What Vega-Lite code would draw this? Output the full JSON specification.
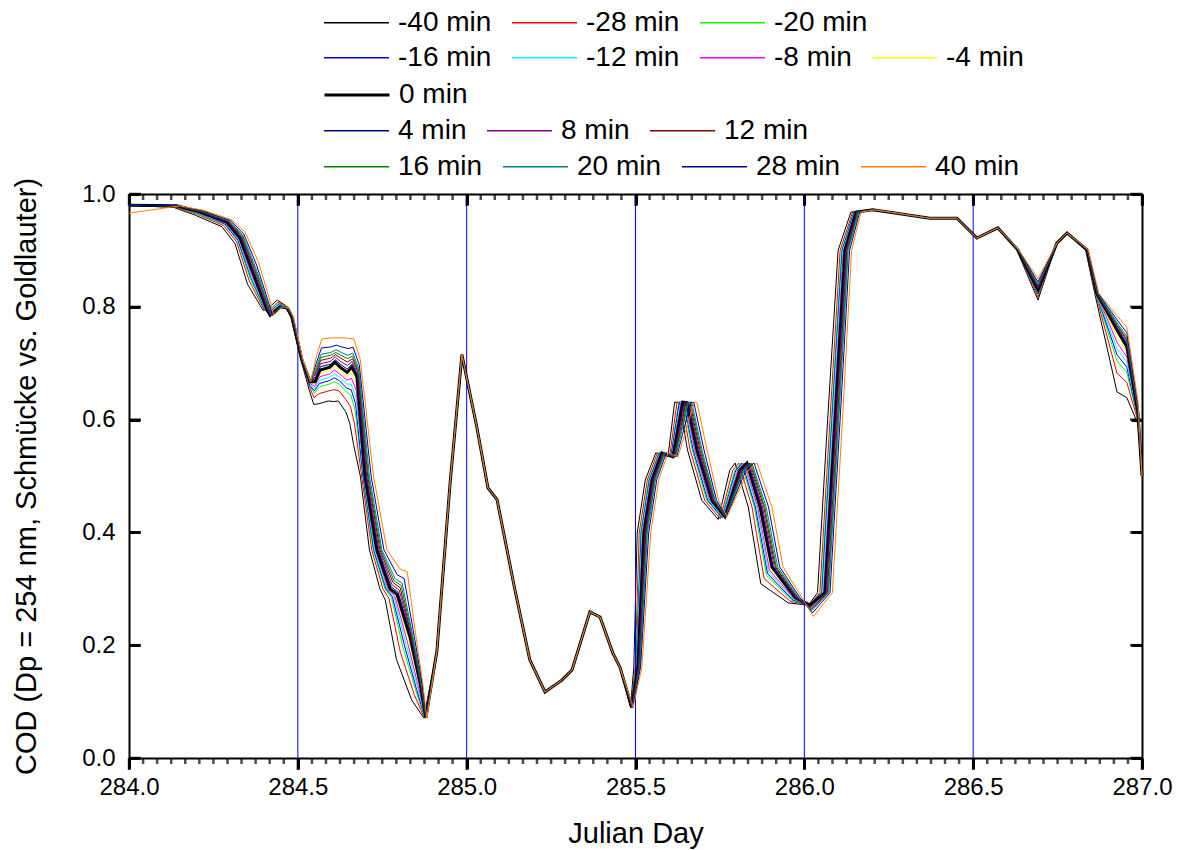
{
"$schema":"https://vega.github.io/schema/vega-lite/v6.json",
"width":1013,"height":564,
"autosize":{"type":"none"},
"padding":{"left":129,"top":194,"right":35,"bottom":92},
"background":"white",
"config":{"view":{"stroke":null},"font":"Liberation Sans",
"axis":{"grid":false,"domainColor":"black","domainWidth":2,"labelColor":"black","titleColor":"black","labelFont":"Liberation Sans","titleFont":"Liberation Sans","titleFontWeight":"normal","labelFontSize":24,"titleFontSize":29},
"legend":{"labelFont":"Liberation Sans","labelFontSize":28,"labelColor":"black","symbolType":"stroke","symbolSize":4225,"symbolStrokeWidth":1.5,"labelOffset":8,"columnPadding":17,"padding":0,"offset":0,"direction":"horizontal","orient":"none","title":null}},
"datasets":{
"minor":[{"p":284.0417},{"p":284.0833},{"p":284.125},{"p":284.1667},{"p":284.2083},{"p":284.25},{"p":284.2917},{"p":284.3333},{"p":284.375},{"p":284.4167},{"p":284.4583},{"p":284.5417},{"p":284.5833},{"p":284.625},{"p":284.6667},{"p":284.7083},{"p":284.75},{"p":284.7917},{"p":284.8333},{"p":284.875},{"p":284.9167},{"p":284.9583},{"p":285.0417},{"p":285.0833},{"p":285.125},{"p":285.1667},{"p":285.2083},{"p":285.25},{"p":285.2917},{"p":285.3333},{"p":285.375},{"p":285.4167},{"p":285.4583},{"p":285.5417},{"p":285.5833},{"p":285.625},{"p":285.6667},{"p":285.7083},{"p":285.75},{"p":285.7917},{"p":285.8333},{"p":285.875},{"p":285.9167},{"p":285.9583},{"p":286.0417},{"p":286.0833},{"p":286.125},{"p":286.1667},{"p":286.2083},{"p":286.25},{"p":286.2917},{"p":286.3333},{"p":286.375},{"p":286.4167},{"p":286.4583},{"p":286.5417},{"p":286.5833},{"p":286.625},{"p":286.6667},{"p":286.7083},{"p":286.75},{"p":286.7917},{"p":286.8333},{"p":286.875},{"p":286.9167},{"p":286.9583}],
"majorx":[{"p":284},{"p":284.5},{"p":285},{"p":285.5},{"p":286},{"p":286.5},{"p":287}],
"majory":[{"p":0},{"p":0.2},{"p":0.4},{"p":0.6},{"p":0.8},{"p":1}],
"days":[{"x":284.5},{"x":285},{"x":285.5},{"x":286},{"x":286.5}]
},
"data":{"values":[
{"lag":-40,"t":284,"v":0.98},{"lag":-40,"t":284.134,"v":0.976},{"lag":-40,"t":284.198,"v":0.962},{"lag":-40,"t":284.275,"v":0.942},{"lag":-40,"t":284.314,"v":0.912},{"lag":-40,"t":284.351,"v":0.84},{"lag":-40,"t":284.397,"v":0.794},{"lag":-40,"t":284.408,"v":0.795},{"lag":-40,"t":284.439,"v":0.812},{"lag":-40,"t":284.462,"v":0.803},{"lag":-40,"t":284.479,"v":0.782},{"lag":-40,"t":284.509,"v":0.706},{"lag":-40,"t":284.534,"v":0.652},{"lag":-40,"t":284.547,"v":0.627},{"lag":-40,"t":284.561,"v":0.628},{"lag":-40,"t":284.59,"v":0.633},{"lag":-40,"t":284.605,"v":0.632},{"lag":-40,"t":284.62,"v":0.633},{"lag":-40,"t":284.642,"v":0.614},{"lag":-40,"t":284.654,"v":0.593},{"lag":-40,"t":284.665,"v":0.556},{"lag":-40,"t":284.685,"v":0.5},{"lag":-40,"t":284.712,"v":0.369},{"lag":-40,"t":284.743,"v":0.3},{"lag":-40,"t":284.759,"v":0.28},{"lag":-40,"t":284.792,"v":0.175},{"lag":-40,"t":284.837,"v":0.103},{"lag":-40,"t":284.873,"v":0.071},
{"lag":-40,"t":284.912,"v":0.19},{"lag":-40,"t":284.951,"v":0.488},{"lag":-40,"t":284.986,"v":0.715},{"lag":-40,"t":285.03,"v":0.587},{"lag":-40,"t":285.063,"v":0.479},{"lag":-40,"t":285.09,"v":0.458},{"lag":-40,"t":285.143,"v":0.298},{"lag":-40,"t":285.187,"v":0.174},{"lag":-40,"t":285.232,"v":0.117},{"lag":-40,"t":285.282,"v":0.138},{"lag":-40,"t":285.312,"v":0.156},{"lag":-40,"t":285.365,"v":0.259},{"lag":-40,"t":285.395,"v":0.25},{"lag":-40,"t":285.433,"v":0.186},{"lag":-40,"t":285.454,"v":0.161},
{"lag":-40,"t":285.485,"v":0.09},{"lag":-40,"t":285.495,"v":0.161},{"lag":-40,"t":285.505,"v":0.399},{"lag":-40,"t":285.529,"v":0.493},{"lag":-40,"t":285.56,"v":0.541},{"lag":-40,"t":285.596,"v":0.534},{"lag":-40,"t":285.616,"v":0.631},{"lag":-40,"t":285.63,"v":0.63},{"lag":-40,"t":285.654,"v":0.546},{"lag":-40,"t":285.696,"v":0.457},{"lag":-40,"t":285.745,"v":0.423},{"lag":-40,"t":285.779,"v":0.51},{"lag":-40,"t":285.795,"v":0.523},{"lag":-40,"t":285.834,"v":0.445},{"lag":-40,"t":285.871,"v":0.309},{"lag":-40,"t":285.952,"v":0.275},{"lag":-40,"t":286.012,"v":0.271},{"lag":-40,"t":286.039,"v":0.293},{"lag":-40,"t":286.069,"v":0.6},{"lag":-40,"t":286.1,"v":0.9},{"lag":-40,"t":286.138,"v":0.968},{"lag":-40,"t":286.198,"v":0.972},
{"lag":-40,"t":286.372,"v":0.957},{"lag":-40,"t":286.452,"v":0.957},{"lag":-40,"t":286.511,"v":0.922},{"lag":-40,"t":286.573,"v":0.94},{"lag":-40,"t":286.629,"v":0.901},{"lag":-40,"t":286.692,"v":0.812},{"lag":-40,"t":286.748,"v":0.913},{"lag":-40,"t":286.778,"v":0.931},{"lag":-40,"t":286.833,"v":0.901},{"lag":-40,"t":286.86,"v":0.824},{"lag":-40,"t":286.926,"v":0.649},{"lag":-40,"t":286.955,"v":0.639},{"lag":-40,"t":286.988,"v":0.592},{"lag":-40,"t":287,"v":0.5},

{"lag":-28,"t":284,"v":0.98},{"lag":-28,"t":284.136,"v":0.977},{"lag":-28,"t":284.202,"v":0.964},{"lag":-28,"t":284.28,"v":0.944},{"lag":-28,"t":284.319,"v":0.915},{"lag":-28,"t":284.356,"v":0.846},{"lag":-28,"t":284.401,"v":0.794},{"lag":-28,"t":284.411,"v":0.792},{"lag":-28,"t":284.441,"v":0.808},{"lag":-28,"t":284.464,"v":0.802},{"lag":-28,"t":284.48,"v":0.782},{"lag":-28,"t":284.51,"v":0.706},{"lag":-28,"t":284.535,"v":0.657},{"lag":-28,"t":284.548,"v":0.639},{"lag":-28,"t":284.563,"v":0.646},{"lag":-28,"t":284.592,"v":0.651},{"lag":-28,"t":284.607,"v":0.653},{"lag":-28,"t":284.622,"v":0.651},{"lag":-28,"t":284.643,"v":0.635},{"lag":-28,"t":284.656,"v":0.623},{"lag":-28,"t":284.668,"v":0.592},{"lag":-28,"t":284.689,"v":0.5},{"lag":-28,"t":284.719,"v":0.369},{"lag":-28,"t":284.752,"v":0.3},{"lag":-28,"t":284.77,"v":0.283},{"lag":-28,"t":284.804,"v":0.187},{"lag":-28,"t":284.845,"v":0.112},{"lag":-28,"t":284.875,"v":0.071},
{"lag":-28,"t":284.912,"v":0.19},{"lag":-28,"t":284.951,"v":0.488},{"lag":-28,"t":284.986,"v":0.715},{"lag":-28,"t":285.03,"v":0.587},{"lag":-28,"t":285.063,"v":0.479},{"lag":-28,"t":285.09,"v":0.458},{"lag":-28,"t":285.143,"v":0.298},{"lag":-28,"t":285.187,"v":0.174},{"lag":-28,"t":285.232,"v":0.117},{"lag":-28,"t":285.282,"v":0.138},{"lag":-28,"t":285.312,"v":0.156},{"lag":-28,"t":285.365,"v":0.259},{"lag":-28,"t":285.395,"v":0.25},{"lag":-28,"t":285.433,"v":0.186},{"lag":-28,"t":285.454,"v":0.161},
{"lag":-28,"t":285.486,"v":0.09},{"lag":-28,"t":285.499,"v":0.161},{"lag":-28,"t":285.511,"v":0.399},{"lag":-28,"t":285.535,"v":0.493},{"lag":-28,"t":285.565,"v":0.541},{"lag":-28,"t":285.601,"v":0.534},{"lag":-28,"t":285.623,"v":0.631},{"lag":-28,"t":285.637,"v":0.63},{"lag":-28,"t":285.662,"v":0.546},{"lag":-28,"t":285.705,"v":0.457},{"lag":-28,"t":285.751,"v":0.424},{"lag":-28,"t":285.788,"v":0.51},{"lag":-28,"t":285.806,"v":0.523},{"lag":-28,"t":285.845,"v":0.445},{"lag":-28,"t":285.881,"v":0.318},{"lag":-28,"t":285.958,"v":0.278},{"lag":-28,"t":286.014,"v":0.271},{"lag":-28,"t":286.046,"v":0.293},{"lag":-28,"t":286.076,"v":0.6},{"lag":-28,"t":286.106,"v":0.9},{"lag":-28,"t":286.143,"v":0.968},{"lag":-28,"t":286.2,"v":0.972},
{"lag":-28,"t":286.372,"v":0.957},{"lag":-28,"t":286.452,"v":0.957},{"lag":-28,"t":286.511,"v":0.922},{"lag":-28,"t":286.573,"v":0.94},{"lag":-28,"t":286.63,"v":0.901},{"lag":-28,"t":286.692,"v":0.817},{"lag":-28,"t":286.748,"v":0.913},{"lag":-28,"t":286.778,"v":0.931},{"lag":-28,"t":286.834,"v":0.901},{"lag":-28,"t":286.862,"v":0.824},{"lag":-28,"t":286.926,"v":0.682},{"lag":-28,"t":286.955,"v":0.666},{"lag":-28,"t":286.988,"v":0.598},{"lag":-28,"t":287,"v":0.5},

{"lag":-20,"t":284,"v":0.98},{"lag":-20,"t":284.138,"v":0.978},{"lag":-20,"t":284.204,"v":0.965},{"lag":-20,"t":284.283,"v":0.946},{"lag":-20,"t":284.322,"v":0.917},{"lag":-20,"t":284.359,"v":0.85},{"lag":-20,"t":284.403,"v":0.794},{"lag":-20,"t":284.413,"v":0.79},{"lag":-20,"t":284.443,"v":0.806},{"lag":-20,"t":284.465,"v":0.801},{"lag":-20,"t":284.481,"v":0.782},{"lag":-20,"t":284.511,"v":0.706},{"lag":-20,"t":284.535,"v":0.66},{"lag":-20,"t":284.549,"v":0.647},{"lag":-20,"t":284.564,"v":0.658},{"lag":-20,"t":284.593,"v":0.663},{"lag":-20,"t":284.608,"v":0.667},{"lag":-20,"t":284.623,"v":0.663},{"lag":-20,"t":284.644,"v":0.649},{"lag":-20,"t":284.657,"v":0.643},{"lag":-20,"t":284.67,"v":0.616},{"lag":-20,"t":284.692,"v":0.5},{"lag":-20,"t":284.723,"v":0.369},{"lag":-20,"t":284.758,"v":0.3},{"lag":-20,"t":284.777,"v":0.285},{"lag":-20,"t":284.812,"v":0.195},{"lag":-20,"t":284.85,"v":0.118},{"lag":-20,"t":284.876,"v":0.071},
{"lag":-20,"t":284.912,"v":0.19},{"lag":-20,"t":284.951,"v":0.488},{"lag":-20,"t":284.986,"v":0.715},{"lag":-20,"t":285.03,"v":0.587},{"lag":-20,"t":285.063,"v":0.479},{"lag":-20,"t":285.09,"v":0.458},{"lag":-20,"t":285.143,"v":0.298},{"lag":-20,"t":285.187,"v":0.174},{"lag":-20,"t":285.232,"v":0.117},{"lag":-20,"t":285.282,"v":0.138},{"lag":-20,"t":285.312,"v":0.156},{"lag":-20,"t":285.365,"v":0.259},{"lag":-20,"t":285.395,"v":0.25},{"lag":-20,"t":285.433,"v":0.186},{"lag":-20,"t":285.454,"v":0.161},
{"lag":-20,"t":285.487,"v":0.09},{"lag":-20,"t":285.501,"v":0.161},{"lag":-20,"t":285.515,"v":0.399},{"lag":-20,"t":285.539,"v":0.493},{"lag":-20,"t":285.569,"v":0.541},{"lag":-20,"t":285.604,"v":0.534},{"lag":-20,"t":285.628,"v":0.631},{"lag":-20,"t":285.641,"v":0.63},{"lag":-20,"t":285.668,"v":0.546},{"lag":-20,"t":285.711,"v":0.457},{"lag":-20,"t":285.755,"v":0.426},{"lag":-20,"t":285.794,"v":0.51},{"lag":-20,"t":285.813,"v":0.523},{"lag":-20,"t":285.852,"v":0.445},{"lag":-20,"t":285.888,"v":0.324},{"lag":-20,"t":285.962,"v":0.28},{"lag":-20,"t":286.015,"v":0.271},{"lag":-20,"t":286.05,"v":0.293},{"lag":-20,"t":286.08,"v":0.6},{"lag":-20,"t":286.11,"v":0.9},{"lag":-20,"t":286.146,"v":0.968},{"lag":-20,"t":286.201,"v":0.972},
{"lag":-20,"t":286.372,"v":0.957},{"lag":-20,"t":286.452,"v":0.957},{"lag":-20,"t":286.511,"v":0.922},{"lag":-20,"t":286.573,"v":0.94},{"lag":-20,"t":286.631,"v":0.901},{"lag":-20,"t":286.692,"v":0.821},{"lag":-20,"t":286.748,"v":0.913},{"lag":-20,"t":286.778,"v":0.931},{"lag":-20,"t":286.835,"v":0.901},{"lag":-20,"t":286.863,"v":0.824},{"lag":-20,"t":286.926,"v":0.704},{"lag":-20,"t":286.955,"v":0.684},{"lag":-20,"t":286.988,"v":0.602},{"lag":-20,"t":287,"v":0.5},

{"lag":-16,"t":284,"v":0.98},{"lag":-16,"t":284.139,"v":0.978},{"lag":-16,"t":284.205,"v":0.966},{"lag":-16,"t":284.284,"v":0.947},{"lag":-16,"t":284.323,"v":0.918},{"lag":-16,"t":284.361,"v":0.852},{"lag":-16,"t":284.404,"v":0.794},{"lag":-16,"t":284.414,"v":0.789},{"lag":-16,"t":284.444,"v":0.805},{"lag":-16,"t":284.466,"v":0.8},{"lag":-16,"t":284.481,"v":0.782},{"lag":-16,"t":284.511,"v":0.706},{"lag":-16,"t":284.535,"v":0.661},{"lag":-16,"t":284.549,"v":0.651},{"lag":-16,"t":284.564,"v":0.664},{"lag":-16,"t":284.593,"v":0.669},{"lag":-16,"t":284.608,"v":0.674},{"lag":-16,"t":284.623,"v":0.669},{"lag":-16,"t":284.644,"v":0.656},{"lag":-16,"t":284.658,"v":0.653},{"lag":-16,"t":284.671,"v":0.628},{"lag":-16,"t":284.693,"v":0.5},{"lag":-16,"t":284.725,"v":0.369},{"lag":-16,"t":284.761,"v":0.3},{"lag":-16,"t":284.78,"v":0.286},{"lag":-16,"t":284.816,"v":0.199},{"lag":-16,"t":284.852,"v":0.121},{"lag":-16,"t":284.877,"v":0.071},
{"lag":-16,"t":284.912,"v":0.19},{"lag":-16,"t":284.951,"v":0.488},{"lag":-16,"t":284.986,"v":0.715},{"lag":-16,"t":285.03,"v":0.587},{"lag":-16,"t":285.063,"v":0.479},{"lag":-16,"t":285.09,"v":0.458},{"lag":-16,"t":285.143,"v":0.298},{"lag":-16,"t":285.187,"v":0.174},{"lag":-16,"t":285.232,"v":0.117},{"lag":-16,"t":285.282,"v":0.138},{"lag":-16,"t":285.312,"v":0.156},{"lag":-16,"t":285.365,"v":0.259},{"lag":-16,"t":285.395,"v":0.25},{"lag":-16,"t":285.433,"v":0.186},{"lag":-16,"t":285.454,"v":0.161},
{"lag":-16,"t":285.487,"v":0.09},{"lag":-16,"t":285.502,"v":0.161},{"lag":-16,"t":285.517,"v":0.399},{"lag":-16,"t":285.541,"v":0.493},{"lag":-16,"t":285.571,"v":0.541},{"lag":-16,"t":285.605,"v":0.534},{"lag":-16,"t":285.63,"v":0.631},{"lag":-16,"t":285.643,"v":0.63},{"lag":-16,"t":285.671,"v":0.546},{"lag":-16,"t":285.714,"v":0.457},{"lag":-16,"t":285.757,"v":0.426},{"lag":-16,"t":285.797,"v":0.51},{"lag":-16,"t":285.816,"v":0.523},{"lag":-16,"t":285.855,"v":0.445},{"lag":-16,"t":285.891,"v":0.327},{"lag":-16,"t":285.964,"v":0.281},{"lag":-16,"t":286.015,"v":0.271},{"lag":-16,"t":286.052,"v":0.293},{"lag":-16,"t":286.082,"v":0.6},{"lag":-16,"t":286.112,"v":0.9},{"lag":-16,"t":286.147,"v":0.968},{"lag":-16,"t":286.201,"v":0.972},
{"lag":-16,"t":286.372,"v":0.957},{"lag":-16,"t":286.452,"v":0.957},{"lag":-16,"t":286.511,"v":0.922},{"lag":-16,"t":286.573,"v":0.94},{"lag":-16,"t":286.631,"v":0.901},{"lag":-16,"t":286.692,"v":0.823},{"lag":-16,"t":286.748,"v":0.913},{"lag":-16,"t":286.778,"v":0.931},{"lag":-16,"t":286.835,"v":0.901},{"lag":-16,"t":286.864,"v":0.824},{"lag":-16,"t":286.926,"v":0.715},{"lag":-16,"t":286.955,"v":0.693},{"lag":-16,"t":286.988,"v":0.604},{"lag":-16,"t":287,"v":0.5},

{"lag":-12,"t":284,"v":0.98},{"lag":-12,"t":284.14,"v":0.978},{"lag":-12,"t":284.206,"v":0.966},{"lag":-12,"t":284.286,"v":0.948},{"lag":-12,"t":284.325,"v":0.919},{"lag":-12,"t":284.362,"v":0.854},{"lag":-12,"t":284.405,"v":0.794},{"lag":-12,"t":284.415,"v":0.788},{"lag":-12,"t":284.445,"v":0.804},{"lag":-12,"t":284.466,"v":0.8},{"lag":-12,"t":284.482,"v":0.782},{"lag":-12,"t":284.511,"v":0.706},{"lag":-12,"t":284.535,"v":0.663},{"lag":-12,"t":284.55,"v":0.655},{"lag":-12,"t":284.565,"v":0.67},{"lag":-12,"t":284.594,"v":0.675},{"lag":-12,"t":284.609,"v":0.681},{"lag":-12,"t":284.624,"v":0.675},{"lag":-12,"t":284.645,"v":0.663},{"lag":-12,"t":284.658,"v":0.663},{"lag":-12,"t":284.672,"v":0.64},{"lag":-12,"t":284.695,"v":0.5},{"lag":-12,"t":284.727,"v":0.369},{"lag":-12,"t":284.764,"v":0.3},{"lag":-12,"t":284.784,"v":0.287},{"lag":-12,"t":284.82,"v":0.203},{"lag":-12,"t":284.855,"v":0.124},{"lag":-12,"t":284.877,"v":0.071},
{"lag":-12,"t":284.912,"v":0.19},{"lag":-12,"t":284.951,"v":0.488},{"lag":-12,"t":284.986,"v":0.715},{"lag":-12,"t":285.03,"v":0.587},{"lag":-12,"t":285.063,"v":0.479},{"lag":-12,"t":285.09,"v":0.458},{"lag":-12,"t":285.143,"v":0.298},{"lag":-12,"t":285.187,"v":0.174},{"lag":-12,"t":285.232,"v":0.117},{"lag":-12,"t":285.282,"v":0.138},{"lag":-12,"t":285.312,"v":0.156},{"lag":-12,"t":285.365,"v":0.259},{"lag":-12,"t":285.395,"v":0.25},{"lag":-12,"t":285.433,"v":0.186},{"lag":-12,"t":285.454,"v":0.161},
{"lag":-12,"t":285.488,"v":0.09},{"lag":-12,"t":285.503,"v":0.161},{"lag":-12,"t":285.519,"v":0.399},{"lag":-12,"t":285.543,"v":0.493},{"lag":-12,"t":285.573,"v":0.541},{"lag":-12,"t":285.607,"v":0.534},{"lag":-12,"t":285.633,"v":0.631},{"lag":-12,"t":285.645,"v":0.63},{"lag":-12,"t":285.674,"v":0.546},{"lag":-12,"t":285.717,"v":0.457},{"lag":-12,"t":285.759,"v":0.427},{"lag":-12,"t":285.8,"v":0.51},{"lag":-12,"t":285.82,"v":0.523},{"lag":-12,"t":285.859,"v":0.445},{"lag":-12,"t":285.894,"v":0.33},{"lag":-12,"t":285.966,"v":0.282},{"lag":-12,"t":286.016,"v":0.271},{"lag":-12,"t":286.054,"v":0.293},{"lag":-12,"t":286.084,"v":0.6},{"lag":-12,"t":286.114,"v":0.9},{"lag":-12,"t":286.149,"v":0.968},{"lag":-12,"t":286.202,"v":0.972},
{"lag":-12,"t":286.372,"v":0.957},{"lag":-12,"t":286.452,"v":0.957},{"lag":-12,"t":286.511,"v":0.922},{"lag":-12,"t":286.573,"v":0.94},{"lag":-12,"t":286.631,"v":0.901},{"lag":-12,"t":286.692,"v":0.825},{"lag":-12,"t":286.748,"v":0.913},{"lag":-12,"t":286.778,"v":0.931},{"lag":-12,"t":286.836,"v":0.901},{"lag":-12,"t":286.864,"v":0.824},{"lag":-12,"t":286.926,"v":0.726},{"lag":-12,"t":286.955,"v":0.702},{"lag":-12,"t":286.988,"v":0.606},{"lag":-12,"t":287,"v":0.5},

{"lag":-8,"t":284,"v":0.98},{"lag":-8,"t":284.14,"v":0.978},{"lag":-8,"t":284.208,"v":0.967},{"lag":-8,"t":284.287,"v":0.948},{"lag":-8,"t":284.326,"v":0.92},{"lag":-8,"t":284.364,"v":0.856},{"lag":-8,"t":284.407,"v":0.794},{"lag":-8,"t":284.416,"v":0.787},{"lag":-8,"t":284.445,"v":0.802},{"lag":-8,"t":284.467,"v":0.799},{"lag":-8,"t":284.482,"v":0.782},{"lag":-8,"t":284.511,"v":0.706},{"lag":-8,"t":284.536,"v":0.664},{"lag":-8,"t":284.55,"v":0.659},{"lag":-8,"t":284.565,"v":0.676},{"lag":-8,"t":284.594,"v":0.681},{"lag":-8,"t":284.609,"v":0.688},{"lag":-8,"t":284.624,"v":0.681},{"lag":-8,"t":284.645,"v":0.67},{"lag":-8,"t":284.659,"v":0.673},{"lag":-8,"t":284.673,"v":0.652},{"lag":-8,"t":284.696,"v":0.5},{"lag":-8,"t":284.73,"v":0.369},{"lag":-8,"t":284.767,"v":0.3},{"lag":-8,"t":284.787,"v":0.288},{"lag":-8,"t":284.824,"v":0.207},{"lag":-8,"t":284.857,"v":0.127},{"lag":-8,"t":284.878,"v":0.071},
{"lag":-8,"t":284.912,"v":0.19},{"lag":-8,"t":284.951,"v":0.488},{"lag":-8,"t":284.986,"v":0.715},{"lag":-8,"t":285.03,"v":0.587},{"lag":-8,"t":285.063,"v":0.479},{"lag":-8,"t":285.09,"v":0.458},{"lag":-8,"t":285.143,"v":0.298},{"lag":-8,"t":285.187,"v":0.174},{"lag":-8,"t":285.232,"v":0.117},{"lag":-8,"t":285.282,"v":0.138},{"lag":-8,"t":285.312,"v":0.156},{"lag":-8,"t":285.365,"v":0.259},{"lag":-8,"t":285.395,"v":0.25},{"lag":-8,"t":285.433,"v":0.186},{"lag":-8,"t":285.454,"v":0.161},
{"lag":-8,"t":285.488,"v":0.09},{"lag":-8,"t":285.505,"v":0.161},{"lag":-8,"t":285.521,"v":0.399},{"lag":-8,"t":285.545,"v":0.493},{"lag":-8,"t":285.574,"v":0.541},{"lag":-8,"t":285.608,"v":0.534},{"lag":-8,"t":285.635,"v":0.631},{"lag":-8,"t":285.648,"v":0.63},{"lag":-8,"t":285.676,"v":0.546},{"lag":-8,"t":285.72,"v":0.457},{"lag":-8,"t":285.761,"v":0.427},{"lag":-8,"t":285.803,"v":0.51},{"lag":-8,"t":285.823,"v":0.523},{"lag":-8,"t":285.862,"v":0.445},{"lag":-8,"t":285.897,"v":0.333},{"lag":-8,"t":285.968,"v":0.283},{"lag":-8,"t":286.016,"v":0.271},{"lag":-8,"t":286.057,"v":0.293},{"lag":-8,"t":286.087,"v":0.6},{"lag":-8,"t":286.116,"v":0.9},{"lag":-8,"t":286.15,"v":0.968},{"lag":-8,"t":286.202,"v":0.972},
{"lag":-8,"t":286.372,"v":0.957},{"lag":-8,"t":286.452,"v":0.957},{"lag":-8,"t":286.511,"v":0.922},{"lag":-8,"t":286.573,"v":0.94},{"lag":-8,"t":286.631,"v":0.901},{"lag":-8,"t":286.692,"v":0.826},{"lag":-8,"t":286.748,"v":0.913},{"lag":-8,"t":286.778,"v":0.931},{"lag":-8,"t":286.836,"v":0.901},{"lag":-8,"t":286.865,"v":0.824},{"lag":-8,"t":286.926,"v":0.737},{"lag":-8,"t":286.955,"v":0.711},{"lag":-8,"t":286.988,"v":0.608},{"lag":-8,"t":287,"v":0.5},

{"lag":-4,"t":284,"v":0.98},{"lag":-4,"t":284.141,"v":0.979},{"lag":-4,"t":284.209,"v":0.967},{"lag":-4,"t":284.289,"v":0.949},{"lag":-4,"t":284.328,"v":0.921},{"lag":-4,"t":284.365,"v":0.858},{"lag":-4,"t":284.408,"v":0.794},{"lag":-4,"t":284.417,"v":0.786},{"lag":-4,"t":284.446,"v":0.801},{"lag":-4,"t":284.467,"v":0.799},{"lag":-4,"t":284.483,"v":0.782},{"lag":-4,"t":284.512,"v":0.706},{"lag":-4,"t":284.536,"v":0.666},{"lag":-4,"t":284.551,"v":0.663},{"lag":-4,"t":284.566,"v":0.682},{"lag":-4,"t":284.595,"v":0.687},{"lag":-4,"t":284.61,"v":0.695},{"lag":-4,"t":284.625,"v":0.687},{"lag":-4,"t":284.646,"v":0.677},{"lag":-4,"t":284.659,"v":0.683},{"lag":-4,"t":284.674,"v":0.664},{"lag":-4,"t":284.698,"v":0.5},{"lag":-4,"t":284.732,"v":0.369},{"lag":-4,"t":284.77,"v":0.3},{"lag":-4,"t":284.791,"v":0.289},{"lag":-4,"t":284.828,"v":0.211},{"lag":-4,"t":284.86,"v":0.13},{"lag":-4,"t":284.878,"v":0.071},
{"lag":-4,"t":284.912,"v":0.19},{"lag":-4,"t":284.951,"v":0.488},{"lag":-4,"t":284.986,"v":0.715},{"lag":-4,"t":285.03,"v":0.587},{"lag":-4,"t":285.063,"v":0.479},{"lag":-4,"t":285.09,"v":0.458},{"lag":-4,"t":285.143,"v":0.298},{"lag":-4,"t":285.187,"v":0.174},{"lag":-4,"t":285.232,"v":0.117},{"lag":-4,"t":285.282,"v":0.138},{"lag":-4,"t":285.312,"v":0.156},{"lag":-4,"t":285.365,"v":0.259},{"lag":-4,"t":285.395,"v":0.25},{"lag":-4,"t":285.433,"v":0.186},{"lag":-4,"t":285.454,"v":0.161},
{"lag":-4,"t":285.489,"v":0.09},{"lag":-4,"t":285.506,"v":0.161},{"lag":-4,"t":285.523,"v":0.399},{"lag":-4,"t":285.547,"v":0.493},{"lag":-4,"t":285.576,"v":0.541},{"lag":-4,"t":285.61,"v":0.534},{"lag":-4,"t":285.638,"v":0.631},{"lag":-4,"t":285.65,"v":0.63},{"lag":-4,"t":285.679,"v":0.546},{"lag":-4,"t":285.723,"v":0.457},{"lag":-4,"t":285.763,"v":0.428},{"lag":-4,"t":285.806,"v":0.51},{"lag":-4,"t":285.827,"v":0.523},{"lag":-4,"t":285.866,"v":0.445},{"lag":-4,"t":285.901,"v":0.336},{"lag":-4,"t":285.97,"v":0.284},{"lag":-4,"t":286.017,"v":0.271},{"lag":-4,"t":286.059,"v":0.293},{"lag":-4,"t":286.089,"v":0.6},{"lag":-4,"t":286.118,"v":0.9},{"lag":-4,"t":286.152,"v":0.968},{"lag":-4,"t":286.203,"v":0.972},
{"lag":-4,"t":286.372,"v":0.957},{"lag":-4,"t":286.452,"v":0.957},{"lag":-4,"t":286.511,"v":0.922},{"lag":-4,"t":286.573,"v":0.94},{"lag":-4,"t":286.632,"v":0.901},{"lag":-4,"t":286.692,"v":0.828},{"lag":-4,"t":286.748,"v":0.913},{"lag":-4,"t":286.778,"v":0.931},{"lag":-4,"t":286.837,"v":0.901},{"lag":-4,"t":286.865,"v":0.824},{"lag":-4,"t":286.926,"v":0.748},{"lag":-4,"t":286.955,"v":0.72},{"lag":-4,"t":286.988,"v":0.61},{"lag":-4,"t":287,"v":0.5},

{"lag":0,"t":284,"v":0.98},{"lag":0,"t":284.142,"v":0.979},{"lag":0,"t":284.21,"v":0.968},{"lag":0,"t":284.29,"v":0.95},{"lag":0,"t":284.329,"v":0.922},{"lag":0,"t":284.367,"v":0.86},{"lag":0,"t":284.409,"v":0.794},{"lag":0,"t":284.418,"v":0.785},{"lag":0,"t":284.447,"v":0.8},{"lag":0,"t":284.468,"v":0.798},{"lag":0,"t":284.483,"v":0.782},{"lag":0,"t":284.512,"v":0.706},{"lag":0,"t":284.536,"v":0.667},{"lag":0,"t":284.551,"v":0.667},{"lag":0,"t":284.566,"v":0.688},{"lag":0,"t":284.595,"v":0.693},{"lag":0,"t":284.61,"v":0.702},{"lag":0,"t":284.625,"v":0.693},{"lag":0,"t":284.646,"v":0.684},{"lag":0,"t":284.66,"v":0.693},{"lag":0,"t":284.675,"v":0.676},{"lag":0,"t":284.699,"v":0.5},{"lag":0,"t":284.734,"v":0.369},{"lag":0,"t":284.773,"v":0.3},{"lag":0,"t":284.794,"v":0.29},{"lag":0,"t":284.832,"v":0.215},{"lag":0,"t":284.862,"v":0.133},{"lag":0,"t":284.879,"v":0.071},
{"lag":0,"t":284.912,"v":0.19},{"lag":0,"t":284.951,"v":0.488},{"lag":0,"t":284.986,"v":0.715},{"lag":0,"t":285.03,"v":0.587},{"lag":0,"t":285.063,"v":0.479},{"lag":0,"t":285.09,"v":0.458},{"lag":0,"t":285.143,"v":0.298},{"lag":0,"t":285.187,"v":0.174},{"lag":0,"t":285.232,"v":0.117},{"lag":0,"t":285.282,"v":0.138},{"lag":0,"t":285.312,"v":0.156},{"lag":0,"t":285.365,"v":0.259},{"lag":0,"t":285.395,"v":0.25},{"lag":0,"t":285.433,"v":0.186},{"lag":0,"t":285.454,"v":0.161},
{"lag":0,"t":285.489,"v":0.09},{"lag":0,"t":285.507,"v":0.161},{"lag":0,"t":285.525,"v":0.399},{"lag":0,"t":285.549,"v":0.493},{"lag":0,"t":285.578,"v":0.541},{"lag":0,"t":285.611,"v":0.534},{"lag":0,"t":285.64,"v":0.631},{"lag":0,"t":285.652,"v":0.63},{"lag":0,"t":285.682,"v":0.546},{"lag":0,"t":285.726,"v":0.457},{"lag":0,"t":285.765,"v":0.428},{"lag":0,"t":285.809,"v":0.51},{"lag":0,"t":285.83,"v":0.523},{"lag":0,"t":285.869,"v":0.445},{"lag":0,"t":285.904,"v":0.339},{"lag":0,"t":285.972,"v":0.285},{"lag":0,"t":286.017,"v":0.271},{"lag":0,"t":286.061,"v":0.293},{"lag":0,"t":286.091,"v":0.6},{"lag":0,"t":286.12,"v":0.9},{"lag":0,"t":286.153,"v":0.968},{"lag":0,"t":286.203,"v":0.972},
{"lag":0,"t":286.372,"v":0.957},{"lag":0,"t":286.452,"v":0.957},{"lag":0,"t":286.511,"v":0.922},{"lag":0,"t":286.573,"v":0.94},{"lag":0,"t":286.632,"v":0.901},{"lag":0,"t":286.692,"v":0.83},{"lag":0,"t":286.748,"v":0.913},{"lag":0,"t":286.778,"v":0.931},{"lag":0,"t":286.837,"v":0.901},{"lag":0,"t":286.866,"v":0.824},{"lag":0,"t":286.926,"v":0.759},{"lag":0,"t":286.955,"v":0.729},{"lag":0,"t":286.988,"v":0.612},{"lag":0,"t":287,"v":0.5},

{"lag":4,"t":284,"v":0.98},{"lag":4,"t":284.143,"v":0.979},{"lag":4,"t":284.211,"v":0.968},{"lag":4,"t":284.292,"v":0.95},{"lag":4,"t":284.331,"v":0.923},{"lag":4,"t":284.369,"v":0.862},{"lag":4,"t":284.41,"v":0.795},{"lag":4,"t":284.419,"v":0.785},{"lag":4,"t":284.448,"v":0.8},{"lag":4,"t":284.469,"v":0.798},{"lag":4,"t":284.483,"v":0.782},{"lag":4,"t":284.512,"v":0.706},{"lag":4,"t":284.536,"v":0.667},{"lag":4,"t":284.551,"v":0.672},{"lag":4,"t":284.567,"v":0.694},{"lag":4,"t":284.596,"v":0.698},{"lag":4,"t":284.611,"v":0.706},{"lag":4,"t":284.626,"v":0.698},{"lag":4,"t":284.646,"v":0.69},{"lag":4,"t":284.661,"v":0.698},{"lag":4,"t":284.676,"v":0.679},{"lag":4,"t":284.702,"v":0.5},{"lag":4,"t":284.737,"v":0.369},{"lag":4,"t":284.776,"v":0.304},{"lag":4,"t":284.797,"v":0.294},{"lag":4,"t":284.834,"v":0.215},{"lag":4,"t":284.863,"v":0.133},{"lag":4,"t":284.879,"v":0.071},
{"lag":4,"t":284.912,"v":0.19},{"lag":4,"t":284.951,"v":0.488},{"lag":4,"t":284.986,"v":0.715},{"lag":4,"t":285.03,"v":0.587},{"lag":4,"t":285.063,"v":0.479},{"lag":4,"t":285.09,"v":0.458},{"lag":4,"t":285.143,"v":0.298},{"lag":4,"t":285.187,"v":0.174},{"lag":4,"t":285.232,"v":0.117},{"lag":4,"t":285.282,"v":0.138},{"lag":4,"t":285.312,"v":0.156},{"lag":4,"t":285.365,"v":0.259},{"lag":4,"t":285.395,"v":0.25},{"lag":4,"t":285.433,"v":0.186},{"lag":4,"t":285.454,"v":0.161},
{"lag":4,"t":285.489,"v":0.09},{"lag":4,"t":285.508,"v":0.161},{"lag":4,"t":285.527,"v":0.399},{"lag":4,"t":285.551,"v":0.493},{"lag":4,"t":285.58,"v":0.541},{"lag":4,"t":285.613,"v":0.534},{"lag":4,"t":285.643,"v":0.631},{"lag":4,"t":285.655,"v":0.63},{"lag":4,"t":285.685,"v":0.546},{"lag":4,"t":285.728,"v":0.457},{"lag":4,"t":285.766,"v":0.428},{"lag":4,"t":285.812,"v":0.51},{"lag":4,"t":285.833,"v":0.523},{"lag":4,"t":285.873,"v":0.445},{"lag":4,"t":285.907,"v":0.339},{"lag":4,"t":285.974,"v":0.285},{"lag":4,"t":286.018,"v":0.269},{"lag":4,"t":286.063,"v":0.293},{"lag":4,"t":286.093,"v":0.6},{"lag":4,"t":286.122,"v":0.9},{"lag":4,"t":286.155,"v":0.968},{"lag":4,"t":286.204,"v":0.972},
{"lag":4,"t":286.372,"v":0.957},{"lag":4,"t":286.452,"v":0.957},{"lag":4,"t":286.511,"v":0.922},{"lag":4,"t":286.573,"v":0.94},{"lag":4,"t":286.632,"v":0.901},{"lag":4,"t":286.692,"v":0.832},{"lag":4,"t":286.748,"v":0.913},{"lag":4,"t":286.778,"v":0.931},{"lag":4,"t":286.837,"v":0.901},{"lag":4,"t":286.867,"v":0.824},{"lag":4,"t":286.926,"v":0.762},{"lag":4,"t":286.955,"v":0.733},{"lag":4,"t":286.988,"v":0.614},{"lag":4,"t":287,"v":0.5},

{"lag":8,"t":284,"v":0.98},{"lag":8,"t":284.144,"v":0.979},{"lag":8,"t":284.212,"v":0.969},{"lag":8,"t":284.293,"v":0.951},{"lag":8,"t":284.332,"v":0.924},{"lag":8,"t":284.37,"v":0.864},{"lag":8,"t":284.411,"v":0.796},{"lag":8,"t":284.42,"v":0.785},{"lag":8,"t":284.449,"v":0.8},{"lag":8,"t":284.469,"v":0.798},{"lag":8,"t":284.484,"v":0.782},{"lag":8,"t":284.513,"v":0.706},{"lag":8,"t":284.536,"v":0.667},{"lag":8,"t":284.552,"v":0.676},{"lag":8,"t":284.567,"v":0.699},{"lag":8,"t":284.596,"v":0.703},{"lag":8,"t":284.611,"v":0.711},{"lag":8,"t":284.626,"v":0.703},{"lag":8,"t":284.647,"v":0.696},{"lag":8,"t":284.661,"v":0.703},{"lag":8,"t":284.677,"v":0.682},{"lag":8,"t":284.704,"v":0.5},{"lag":8,"t":284.74,"v":0.369},{"lag":8,"t":284.779,"v":0.307},{"lag":8,"t":284.8,"v":0.298},{"lag":8,"t":284.836,"v":0.215},{"lag":8,"t":284.864,"v":0.133},{"lag":8,"t":284.88,"v":0.071},
{"lag":8,"t":284.912,"v":0.19},{"lag":8,"t":284.951,"v":0.488},{"lag":8,"t":284.986,"v":0.715},{"lag":8,"t":285.03,"v":0.587},{"lag":8,"t":285.063,"v":0.479},{"lag":8,"t":285.09,"v":0.458},{"lag":8,"t":285.143,"v":0.298},{"lag":8,"t":285.187,"v":0.174},{"lag":8,"t":285.232,"v":0.117},{"lag":8,"t":285.282,"v":0.138},{"lag":8,"t":285.312,"v":0.156},{"lag":8,"t":285.365,"v":0.259},{"lag":8,"t":285.395,"v":0.25},{"lag":8,"t":285.433,"v":0.186},{"lag":8,"t":285.454,"v":0.161},
{"lag":8,"t":285.49,"v":0.09},{"lag":8,"t":285.509,"v":0.161},{"lag":8,"t":285.529,"v":0.399},{"lag":8,"t":285.553,"v":0.493},{"lag":8,"t":285.582,"v":0.541},{"lag":8,"t":285.614,"v":0.534},{"lag":8,"t":285.647,"v":0.631},{"lag":8,"t":285.658,"v":0.63},{"lag":8,"t":285.688,"v":0.546},{"lag":8,"t":285.73,"v":0.457},{"lag":8,"t":285.766,"v":0.428},{"lag":8,"t":285.814,"v":0.51},{"lag":8,"t":285.836,"v":0.523},{"lag":8,"t":285.876,"v":0.445},{"lag":8,"t":285.911,"v":0.339},{"lag":8,"t":285.976,"v":0.285},{"lag":8,"t":286.019,"v":0.267},{"lag":8,"t":286.065,"v":0.293},{"lag":8,"t":286.095,"v":0.6},{"lag":8,"t":286.124,"v":0.9},{"lag":8,"t":286.156,"v":0.968},{"lag":8,"t":286.204,"v":0.972},
{"lag":8,"t":286.372,"v":0.957},{"lag":8,"t":286.452,"v":0.957},{"lag":8,"t":286.511,"v":0.922},{"lag":8,"t":286.573,"v":0.94},{"lag":8,"t":286.633,"v":0.901},{"lag":8,"t":286.692,"v":0.834},{"lag":8,"t":286.748,"v":0.913},{"lag":8,"t":286.778,"v":0.931},{"lag":8,"t":286.838,"v":0.901},{"lag":8,"t":286.867,"v":0.824},{"lag":8,"t":286.926,"v":0.764},{"lag":8,"t":286.955,"v":0.736},{"lag":8,"t":286.988,"v":0.616},{"lag":8,"t":287,"v":0.5},

{"lag":12,"t":284,"v":0.98},{"lag":12,"t":284.144,"v":0.979},{"lag":12,"t":284.214,"v":0.969},{"lag":12,"t":284.295,"v":0.951},{"lag":12,"t":284.334,"v":0.925},{"lag":12,"t":284.372,"v":0.866},{"lag":12,"t":284.413,"v":0.797},{"lag":12,"t":284.421,"v":0.785},{"lag":12,"t":284.449,"v":0.8},{"lag":12,"t":284.47,"v":0.798},{"lag":12,"t":284.484,"v":0.782},{"lag":12,"t":284.513,"v":0.706},{"lag":12,"t":284.537,"v":0.667},{"lag":12,"t":284.552,"v":0.681},{"lag":12,"t":284.568,"v":0.705},{"lag":12,"t":284.597,"v":0.709},{"lag":12,"t":284.612,"v":0.715},{"lag":12,"t":284.627,"v":0.709},{"lag":12,"t":284.647,"v":0.702},{"lag":12,"t":284.662,"v":0.708},{"lag":12,"t":284.678,"v":0.685},{"lag":12,"t":284.707,"v":0.5},{"lag":12,"t":284.743,"v":0.369},{"lag":12,"t":284.782,"v":0.311},{"lag":12,"t":284.803,"v":0.302},{"lag":12,"t":284.837,"v":0.215},{"lag":12,"t":284.864,"v":0.133},{"lag":12,"t":284.88,"v":0.071},
{"lag":12,"t":284.912,"v":0.19},{"lag":12,"t":284.951,"v":0.488},{"lag":12,"t":284.986,"v":0.715},{"lag":12,"t":285.03,"v":0.587},{"lag":12,"t":285.063,"v":0.479},{"lag":12,"t":285.09,"v":0.458},{"lag":12,"t":285.143,"v":0.298},{"lag":12,"t":285.187,"v":0.174},{"lag":12,"t":285.232,"v":0.117},{"lag":12,"t":285.282,"v":0.138},{"lag":12,"t":285.312,"v":0.156},{"lag":12,"t":285.365,"v":0.259},{"lag":12,"t":285.395,"v":0.25},{"lag":12,"t":285.433,"v":0.186},{"lag":12,"t":285.454,"v":0.161},
{"lag":12,"t":285.49,"v":0.09},{"lag":12,"t":285.511,"v":0.161},{"lag":12,"t":285.531,"v":0.399},{"lag":12,"t":285.555,"v":0.493},{"lag":12,"t":285.583,"v":0.541},{"lag":12,"t":285.616,"v":0.534},{"lag":12,"t":285.65,"v":0.631},{"lag":12,"t":285.661,"v":0.63},{"lag":12,"t":285.691,"v":0.546},{"lag":12,"t":285.732,"v":0.457},{"lag":12,"t":285.767,"v":0.428},{"lag":12,"t":285.817,"v":0.51},{"lag":12,"t":285.839,"v":0.523},{"lag":12,"t":285.88,"v":0.445},{"lag":12,"t":285.914,"v":0.339},{"lag":12,"t":285.978,"v":0.285},{"lag":12,"t":286.02,"v":0.265},{"lag":12,"t":286.068,"v":0.293},{"lag":12,"t":286.098,"v":0.6},{"lag":12,"t":286.126,"v":0.9},{"lag":12,"t":286.158,"v":0.968},{"lag":12,"t":286.205,"v":0.972},
{"lag":12,"t":286.372,"v":0.957},{"lag":12,"t":286.452,"v":0.957},{"lag":12,"t":286.511,"v":0.922},{"lag":12,"t":286.573,"v":0.94},{"lag":12,"t":286.633,"v":0.901},{"lag":12,"t":286.692,"v":0.836},{"lag":12,"t":286.748,"v":0.913},{"lag":12,"t":286.778,"v":0.931},{"lag":12,"t":286.838,"v":0.901},{"lag":12,"t":286.868,"v":0.824},{"lag":12,"t":286.926,"v":0.767},{"lag":12,"t":286.955,"v":0.74},{"lag":12,"t":286.988,"v":0.618},{"lag":12,"t":287,"v":0.5},

{"lag":16,"t":284,"v":0.98},{"lag":16,"t":284.145,"v":0.979},{"lag":16,"t":284.215,"v":0.969},{"lag":16,"t":284.296,"v":0.952},{"lag":16,"t":284.335,"v":0.926},{"lag":16,"t":284.373,"v":0.868},{"lag":16,"t":284.414,"v":0.798},{"lag":16,"t":284.422,"v":0.785},{"lag":16,"t":284.45,"v":0.8},{"lag":16,"t":284.47,"v":0.798},{"lag":16,"t":284.485,"v":0.782},{"lag":16,"t":284.513,"v":0.706},{"lag":16,"t":284.537,"v":0.667},{"lag":16,"t":284.553,"v":0.685},{"lag":16,"t":284.568,"v":0.71},{"lag":16,"t":284.597,"v":0.714},{"lag":16,"t":284.612,"v":0.719},{"lag":16,"t":284.627,"v":0.714},{"lag":16,"t":284.648,"v":0.708},{"lag":16,"t":284.662,"v":0.713},{"lag":16,"t":284.679,"v":0.688},{"lag":16,"t":284.709,"v":0.5},{"lag":16,"t":284.746,"v":0.369},{"lag":16,"t":284.785,"v":0.314},{"lag":16,"t":284.806,"v":0.306},{"lag":16,"t":284.839,"v":0.215},{"lag":16,"t":284.865,"v":0.133},{"lag":16,"t":284.88,"v":0.071},
{"lag":16,"t":284.912,"v":0.19},{"lag":16,"t":284.951,"v":0.488},{"lag":16,"t":284.986,"v":0.715},{"lag":16,"t":285.03,"v":0.587},{"lag":16,"t":285.063,"v":0.479},{"lag":16,"t":285.09,"v":0.458},{"lag":16,"t":285.143,"v":0.298},{"lag":16,"t":285.187,"v":0.174},{"lag":16,"t":285.232,"v":0.117},{"lag":16,"t":285.282,"v":0.138},{"lag":16,"t":285.312,"v":0.156},{"lag":16,"t":285.365,"v":0.259},{"lag":16,"t":285.395,"v":0.25},{"lag":16,"t":285.433,"v":0.186},{"lag":16,"t":285.454,"v":0.161},
{"lag":16,"t":285.491,"v":0.09},{"lag":16,"t":285.512,"v":0.161},{"lag":16,"t":285.533,"v":0.399},{"lag":16,"t":285.557,"v":0.493},{"lag":16,"t":285.585,"v":0.541},{"lag":16,"t":285.617,"v":0.534},{"lag":16,"t":285.654,"v":0.631},{"lag":16,"t":285.664,"v":0.63},{"lag":16,"t":285.694,"v":0.546},{"lag":16,"t":285.734,"v":0.457},{"lag":16,"t":285.767,"v":0.428},{"lag":16,"t":285.819,"v":0.51},{"lag":16,"t":285.842,"v":0.523},{"lag":16,"t":285.883,"v":0.445},{"lag":16,"t":285.917,"v":0.339},{"lag":16,"t":285.98,"v":0.285},{"lag":16,"t":286.021,"v":0.263},{"lag":16,"t":286.07,"v":0.293},{"lag":16,"t":286.1,"v":0.6},{"lag":16,"t":286.128,"v":0.9},{"lag":16,"t":286.159,"v":0.968},{"lag":16,"t":286.205,"v":0.972},
{"lag":16,"t":286.372,"v":0.957},{"lag":16,"t":286.452,"v":0.957},{"lag":16,"t":286.511,"v":0.922},{"lag":16,"t":286.573,"v":0.94},{"lag":16,"t":286.633,"v":0.901},{"lag":16,"t":286.692,"v":0.838},{"lag":16,"t":286.748,"v":0.913},{"lag":16,"t":286.778,"v":0.931},{"lag":16,"t":286.839,"v":0.901},{"lag":16,"t":286.868,"v":0.824},{"lag":16,"t":286.926,"v":0.769},{"lag":16,"t":286.955,"v":0.743},{"lag":16,"t":286.988,"v":0.62},{"lag":16,"t":287,"v":0.5},

{"lag":20,"t":284,"v":0.98},{"lag":20,"t":284.146,"v":0.979},{"lag":20,"t":284.216,"v":0.97},{"lag":20,"t":284.298,"v":0.952},{"lag":20,"t":284.337,"v":0.927},{"lag":20,"t":284.375,"v":0.87},{"lag":20,"t":284.415,"v":0.799},{"lag":20,"t":284.423,"v":0.785},{"lag":20,"t":284.451,"v":0.8},{"lag":20,"t":284.471,"v":0.798},{"lag":20,"t":284.485,"v":0.782},{"lag":20,"t":284.514,"v":0.706},{"lag":20,"t":284.537,"v":0.667},{"lag":20,"t":284.553,"v":0.69},{"lag":20,"t":284.569,"v":0.716},{"lag":20,"t":284.598,"v":0.719},{"lag":20,"t":284.613,"v":0.724},{"lag":20,"t":284.628,"v":0.719},{"lag":20,"t":284.648,"v":0.714},{"lag":20,"t":284.663,"v":0.718},{"lag":20,"t":284.68,"v":0.691},{"lag":20,"t":284.712,"v":0.5},{"lag":20,"t":284.749,"v":0.369},{"lag":20,"t":284.788,"v":0.318},{"lag":20,"t":284.809,"v":0.31},{"lag":20,"t":284.841,"v":0.215},{"lag":20,"t":284.866,"v":0.133},{"lag":20,"t":284.881,"v":0.071},
{"lag":20,"t":284.912,"v":0.19},{"lag":20,"t":284.951,"v":0.488},{"lag":20,"t":284.986,"v":0.715},{"lag":20,"t":285.03,"v":0.587},{"lag":20,"t":285.063,"v":0.479},{"lag":20,"t":285.09,"v":0.458},{"lag":20,"t":285.143,"v":0.298},{"lag":20,"t":285.187,"v":0.174},{"lag":20,"t":285.232,"v":0.117},{"lag":20,"t":285.282,"v":0.138},{"lag":20,"t":285.312,"v":0.156},{"lag":20,"t":285.365,"v":0.259},{"lag":20,"t":285.395,"v":0.25},{"lag":20,"t":285.433,"v":0.186},{"lag":20,"t":285.454,"v":0.161},
{"lag":20,"t":285.491,"v":0.09},{"lag":20,"t":285.513,"v":0.161},{"lag":20,"t":285.535,"v":0.399},{"lag":20,"t":285.559,"v":0.493},{"lag":20,"t":285.587,"v":0.541},{"lag":20,"t":285.619,"v":0.534},{"lag":20,"t":285.657,"v":0.631},{"lag":20,"t":285.667,"v":0.63},{"lag":20,"t":285.697,"v":0.546},{"lag":20,"t":285.736,"v":0.457},{"lag":20,"t":285.768,"v":0.428},{"lag":20,"t":285.822,"v":0.51},{"lag":20,"t":285.845,"v":0.523},{"lag":20,"t":285.887,"v":0.445},{"lag":20,"t":285.921,"v":0.339},{"lag":20,"t":285.982,"v":0.285},{"lag":20,"t":286.022,"v":0.261},{"lag":20,"t":286.072,"v":0.293},{"lag":20,"t":286.102,"v":0.6},{"lag":20,"t":286.13,"v":0.9},{"lag":20,"t":286.161,"v":0.968},{"lag":20,"t":286.206,"v":0.972},
{"lag":20,"t":286.372,"v":0.957},{"lag":20,"t":286.452,"v":0.957},{"lag":20,"t":286.511,"v":0.922},{"lag":20,"t":286.573,"v":0.94},{"lag":20,"t":286.634,"v":0.901},{"lag":20,"t":286.692,"v":0.84},{"lag":20,"t":286.748,"v":0.913},{"lag":20,"t":286.778,"v":0.931},{"lag":20,"t":286.839,"v":0.901},{"lag":20,"t":286.869,"v":0.824},{"lag":20,"t":286.926,"v":0.772},{"lag":20,"t":286.955,"v":0.747},{"lag":20,"t":286.988,"v":0.622},{"lag":20,"t":287,"v":0.5},

{"lag":28,"t":284,"v":0.98},{"lag":28,"t":284.148,"v":0.979},{"lag":28,"t":284.218,"v":0.97},{"lag":28,"t":284.301,"v":0.953},{"lag":28,"t":284.34,"v":0.929},{"lag":28,"t":284.378,"v":0.874},{"lag":28,"t":284.417,"v":0.801},{"lag":28,"t":284.425,"v":0.785},{"lag":28,"t":284.453,"v":0.8},{"lag":28,"t":284.472,"v":0.798},{"lag":28,"t":284.486,"v":0.782},{"lag":28,"t":284.514,"v":0.706},{"lag":28,"t":284.537,"v":0.667},{"lag":28,"t":284.554,"v":0.699},{"lag":28,"t":284.57,"v":0.727},{"lag":28,"t":284.599,"v":0.729},{"lag":28,"t":284.614,"v":0.732},{"lag":28,"t":284.629,"v":0.729},{"lag":28,"t":284.649,"v":0.726},{"lag":28,"t":284.664,"v":0.728},{"lag":28,"t":284.682,"v":0.697},{"lag":28,"t":284.717,"v":0.5},{"lag":28,"t":284.755,"v":0.369},{"lag":28,"t":284.794,"v":0.325},{"lag":28,"t":284.815,"v":0.318},{"lag":28,"t":284.845,"v":0.215},{"lag":28,"t":284.868,"v":0.133},{"lag":28,"t":284.881,"v":0.071},
{"lag":28,"t":284.912,"v":0.19},{"lag":28,"t":284.951,"v":0.488},{"lag":28,"t":284.986,"v":0.715},{"lag":28,"t":285.03,"v":0.587},{"lag":28,"t":285.063,"v":0.479},{"lag":28,"t":285.09,"v":0.458},{"lag":28,"t":285.143,"v":0.298},{"lag":28,"t":285.187,"v":0.174},{"lag":28,"t":285.232,"v":0.117},{"lag":28,"t":285.282,"v":0.138},{"lag":28,"t":285.312,"v":0.156},{"lag":28,"t":285.365,"v":0.259},{"lag":28,"t":285.395,"v":0.25},{"lag":28,"t":285.433,"v":0.186},{"lag":28,"t":285.454,"v":0.161},
{"lag":28,"t":285.492,"v":0.09},{"lag":28,"t":285.515,"v":0.161},{"lag":28,"t":285.539,"v":0.399},{"lag":28,"t":285.563,"v":0.493},{"lag":28,"t":285.591,"v":0.541},{"lag":28,"t":285.622,"v":0.534},{"lag":28,"t":285.664,"v":0.631},{"lag":28,"t":285.673,"v":0.63},{"lag":28,"t":285.703,"v":0.546},{"lag":28,"t":285.74,"v":0.457},{"lag":28,"t":285.769,"v":0.428},{"lag":28,"t":285.827,"v":0.51},{"lag":28,"t":285.851,"v":0.523},{"lag":28,"t":285.894,"v":0.445},{"lag":28,"t":285.927,"v":0.339},{"lag":28,"t":285.986,"v":0.285},{"lag":28,"t":286.024,"v":0.257},{"lag":28,"t":286.076,"v":0.293},{"lag":28,"t":286.106,"v":0.6},{"lag":28,"t":286.134,"v":0.9},{"lag":28,"t":286.164,"v":0.968},{"lag":28,"t":286.207,"v":0.972},
{"lag":28,"t":286.372,"v":0.957},{"lag":28,"t":286.452,"v":0.957},{"lag":28,"t":286.511,"v":0.922},{"lag":28,"t":286.573,"v":0.94},{"lag":28,"t":286.634,"v":0.901},{"lag":28,"t":286.692,"v":0.844},{"lag":28,"t":286.748,"v":0.913},{"lag":28,"t":286.778,"v":0.931},{"lag":28,"t":286.84,"v":0.901},{"lag":28,"t":286.87,"v":0.824},{"lag":28,"t":286.926,"v":0.777},{"lag":28,"t":286.955,"v":0.754},{"lag":28,"t":286.988,"v":0.626},{"lag":28,"t":287,"v":0.5},

{"lag":40,"t":284,"v":0.966},{"lag":40,"t":284.15,"v":0.979},{"lag":40,"t":284.222,"v":0.971},{"lag":40,"t":284.305,"v":0.954},{"lag":40,"t":284.344,"v":0.932},{"lag":40,"t":284.383,"v":0.88},{"lag":40,"t":284.421,"v":0.804},{"lag":40,"t":284.428,"v":0.785},{"lag":40,"t":284.455,"v":0.8},{"lag":40,"t":284.474,"v":0.798},{"lag":40,"t":284.487,"v":0.782},{"lag":40,"t":284.515,"v":0.706},{"lag":40,"t":284.538,"v":0.667},{"lag":40,"t":284.555,"v":0.712},{"lag":40,"t":284.571,"v":0.743},{"lag":40,"t":284.6,"v":0.745},{"lag":40,"t":284.615,"v":0.745},{"lag":40,"t":284.63,"v":0.745},{"lag":40,"t":284.65,"v":0.744},{"lag":40,"t":284.666,"v":0.743},{"lag":40,"t":284.685,"v":0.706},{"lag":40,"t":284.724,"v":0.5},{"lag":40,"t":284.764,"v":0.369},{"lag":40,"t":284.803,"v":0.335},{"lag":40,"t":284.824,"v":0.33},{"lag":40,"t":284.85,"v":0.215},{"lag":40,"t":284.87,"v":0.133},{"lag":40,"t":284.882,"v":0.071},
{"lag":40,"t":284.912,"v":0.19},{"lag":40,"t":284.951,"v":0.488},{"lag":40,"t":284.986,"v":0.715},{"lag":40,"t":285.03,"v":0.587},{"lag":40,"t":285.063,"v":0.479},{"lag":40,"t":285.09,"v":0.458},{"lag":40,"t":285.143,"v":0.298},{"lag":40,"t":285.187,"v":0.174},{"lag":40,"t":285.232,"v":0.117},{"lag":40,"t":285.282,"v":0.138},{"lag":40,"t":285.312,"v":0.156},{"lag":40,"t":285.365,"v":0.259},{"lag":40,"t":285.395,"v":0.25},{"lag":40,"t":285.433,"v":0.186},{"lag":40,"t":285.454,"v":0.161},
{"lag":40,"t":285.493,"v":0.09},{"lag":40,"t":285.519,"v":0.161},{"lag":40,"t":285.545,"v":0.399},{"lag":40,"t":285.569,"v":0.493},{"lag":40,"t":285.596,"v":0.541},{"lag":40,"t":285.626,"v":0.534},{"lag":40,"t":285.674,"v":0.631},{"lag":40,"t":285.682,"v":0.63},{"lag":40,"t":285.712,"v":0.546},{"lag":40,"t":285.746,"v":0.457},{"lag":40,"t":285.771,"v":0.428},{"lag":40,"t":285.834,"v":0.51},{"lag":40,"t":285.86,"v":0.523},{"lag":40,"t":285.904,"v":0.445},{"lag":40,"t":285.937,"v":0.339},{"lag":40,"t":285.992,"v":0.285},{"lag":40,"t":286.027,"v":0.251},{"lag":40,"t":286.083,"v":0.293},{"lag":40,"t":286.113,"v":0.6},{"lag":40,"t":286.14,"v":0.9},{"lag":40,"t":286.168,"v":0.968},{"lag":40,"t":286.208,"v":0.972},
{"lag":40,"t":286.372,"v":0.957},{"lag":40,"t":286.452,"v":0.957},{"lag":40,"t":286.511,"v":0.922},{"lag":40,"t":286.573,"v":0.94},{"lag":40,"t":286.635,"v":0.901},{"lag":40,"t":286.692,"v":0.85},{"lag":40,"t":286.748,"v":0.913},{"lag":40,"t":286.778,"v":0.931},{"lag":40,"t":286.841,"v":0.901},{"lag":40,"t":286.872,"v":0.824},{"lag":40,"t":286.926,"v":0.784},{"lag":40,"t":286.955,"v":0.764},{"lag":40,"t":286.988,"v":0.632},{"lag":40,"t":287,"v":0.5}
]},
"resolve":{"scale":{"color":"independent"},"axis":{"x":"independent","y":"independent"}},
"layer":[
{"transform":[{"filter":{"field":"lag","oneOf":[-40,-28,-20]}}],
 "mark":{"type":"line","strokeWidth":1},
 "encoding":{
  "x":{"field":"t","type":"quantitative","scale":{"domain":[284,287],"nice":false,"zero":false},
   "axis":{"orient":"bottom","title":"Julian Day","titlePadding":20,"labelPadding":6,"labelFlush":false,"tickColor":"#000000","tickSize":11,"tickWidth":3,"format":".1f",
    "values":[284,284.5,285,285.5,286,286.5,287]}},
  "y":{"field":"v","type":"quantitative","scale":{"domain":[0,1],"nice":false,"zero":false},
   "axis":{"orient":"left","title":"COD (Dp = 254 nm, Schmücke vs. Goldlauter)","values":[0,0.2,0.4,0.6,0.8,1],"format":".1f","labelFlush":false,"tickColor":"#000000","tickSize":-11,"tickWidth":3,"labelPadding":25,"titlePadding":40}},
  "color":{"field":"lag","type":"nominal","scale":{"domain":[-40,-28,-20],"range":["#000000","#ff0000","#00ff00"]},
   "legend":{"legendX":194,"legendY":-205,"labelExpr":"datum.label + ' min'","symbolStrokeWidth":1.5}}}},
{"transform":[{"filter":{"field":"lag","oneOf":[-16,-12,-8,-4]}}],
 "mark":{"type":"line","strokeWidth":1},
 "encoding":{
  "x":{"field":"t","type":"quantitative","scale":{"domain":[284,287],"nice":false,"zero":false},
   "axis":{"orient":"top","title":null,"labels":false,"tickColor":"#000000","tickSize":-11,"tickWidth":3,"values":[284,284.5,285,285.5,286,286.5,287]}},
  "y":{"field":"v","type":"quantitative","scale":{"domain":[0,1],"nice":false,"zero":false},
   "axis":{"orient":"right","title":null,"labels":false,"tickColor":"#000000","values":[0,0.2,0.4,0.6,0.8,1],"tickSize":-11,"tickWidth":3}},
  "color":{"field":"lag","type":"nominal","scale":{"domain":[-16,-12,-8,-4],"range":["#0000ff","#00ffff","#ff00ff","#ffff00"]},
   "legend":{"legendX":194,"legendY":-170,"labelExpr":"datum.label + ' min'","symbolStrokeWidth":1.5}}}},
{"data":{"name":"days"},
 "mark":{"type":"rule","color":"#0000ff","strokeWidth":1},
 "encoding":{"x":{"field":"x","type":"quantitative","scale":{"domain":[284,287],"nice":false,"zero":false},"axis":null}}},
{"data":{"name":"minor"},
 "mark":{"type":"tick","orient":"vertical","size":6,"thickness":2.5,"color":"#000000","yOffset":3},
 "encoding":{"x":{"field":"p","type":"quantitative","scale":{"domain":[284,287],"nice":false,"zero":false},"axis":null},
  "y":{"datum":0,"type":"quantitative","scale":{"domain":[0,1],"nice":false,"zero":false},"axis":null}}},
{"data":{"name":"minor"},
 "mark":{"type":"tick","orient":"vertical","size":6,"thickness":2.5,"color":"#000000","yOffset":3},
 "encoding":{"x":{"field":"p","type":"quantitative","scale":{"domain":[284,287],"nice":false,"zero":false},"axis":null},
  "y":{"datum":1,"type":"quantitative","scale":{"domain":[0,1],"nice":false,"zero":false},"axis":null}}},
{"data":{"name":"majorx"},
 "mark":{"type":"tick","orient":"vertical","size":12,"thickness":2.5,"color":"#000000","yOffset":6},
 "encoding":{"x":{"field":"p","type":"quantitative","scale":{"domain":[284,287],"nice":false,"zero":false},"axis":null},
  "y":{"datum":0,"type":"quantitative","scale":{"domain":[0,1],"nice":false,"zero":false},"axis":null}}},
{"data":{"name":"majorx"},
 "mark":{"type":"tick","orient":"vertical","size":12,"thickness":2.5,"color":"#000000","yOffset":6},
 "encoding":{"x":{"field":"p","type":"quantitative","scale":{"domain":[284,287],"nice":false,"zero":false},"axis":null},
  "y":{"datum":1,"type":"quantitative","scale":{"domain":[0,1],"nice":false,"zero":false},"axis":null}}},
{"data":{"name":"majory"},
 "mark":{"type":"tick","orient":"horizontal","size":12,"thickness":2.5,"color":"#000000","xOffset":6},
 "encoding":{"y":{"field":"p","type":"quantitative","scale":{"domain":[0,1],"nice":false,"zero":false},"axis":null},
  "x":{"datum":284,"type":"quantitative","scale":{"domain":[284,287],"nice":false,"zero":false},"axis":null}}},
{"data":{"name":"majory"},
 "mark":{"type":"tick","orient":"horizontal","size":12,"thickness":2.5,"color":"#000000","xOffset":-6},
 "encoding":{"y":{"field":"p","type":"quantitative","scale":{"domain":[0,1],"nice":false,"zero":false},"axis":null},
  "x":{"datum":287,"type":"quantitative","scale":{"domain":[284,287],"nice":false,"zero":false},"axis":null}}},
{"transform":[{"filter":{"field":"lag","oneOf":[0]}}],
 "mark":{"type":"line","strokeWidth":3},
 "encoding":{
  "x":{"field":"t","type":"quantitative","scale":{"domain":[284,287],"nice":false,"zero":false},"axis":null},
  "y":{"field":"v","type":"quantitative","scale":{"domain":[0,1],"nice":false,"zero":false},"axis":null},
  "color":{"field":"lag","type":"nominal","scale":{"domain":[0],"range":["#000000"]},
   "legend":{"legendX":194,"legendY":-133,"labelExpr":"datum.label + ' min'","symbolStrokeWidth":3}}}},
{"transform":[{"filter":{"field":"lag","oneOf":[4,8,12]}}],
 "mark":{"type":"line","strokeWidth":1},
 "encoding":{
  "x":{"field":"t","type":"quantitative","scale":{"domain":[284,287],"nice":false,"zero":false},"axis":null},
  "y":{"field":"v","type":"quantitative","scale":{"domain":[0,1],"nice":false,"zero":false},"axis":null},
  "color":{"field":"lag","type":"nominal","scale":{"domain":[4,8,12],"range":["#000080","#800080","#800000"]},
   "legend":{"legendX":194,"legendY":-97,"labelExpr":"datum.label + ' min'","symbolStrokeWidth":1.5}}}},
{"transform":[{"filter":{"field":"lag","oneOf":[16,20,28,40]}}],
 "mark":{"type":"line","strokeWidth":1},
 "encoding":{
  "x":{"field":"t","type":"quantitative","scale":{"domain":[284,287],"nice":false,"zero":false},"axis":null},
  "y":{"field":"v","type":"quantitative","scale":{"domain":[0,1],"nice":false,"zero":false},"axis":null},
  "color":{"field":"lag","type":"nominal","scale":{"domain":[16,20,28,40],"range":["#008000","#008080","#0000a0","#ff8000"]},
   "legend":{"legendX":194,"legendY":-61,"labelExpr":"datum.label + ' min'","symbolStrokeWidth":1.5}}}}
]
}
